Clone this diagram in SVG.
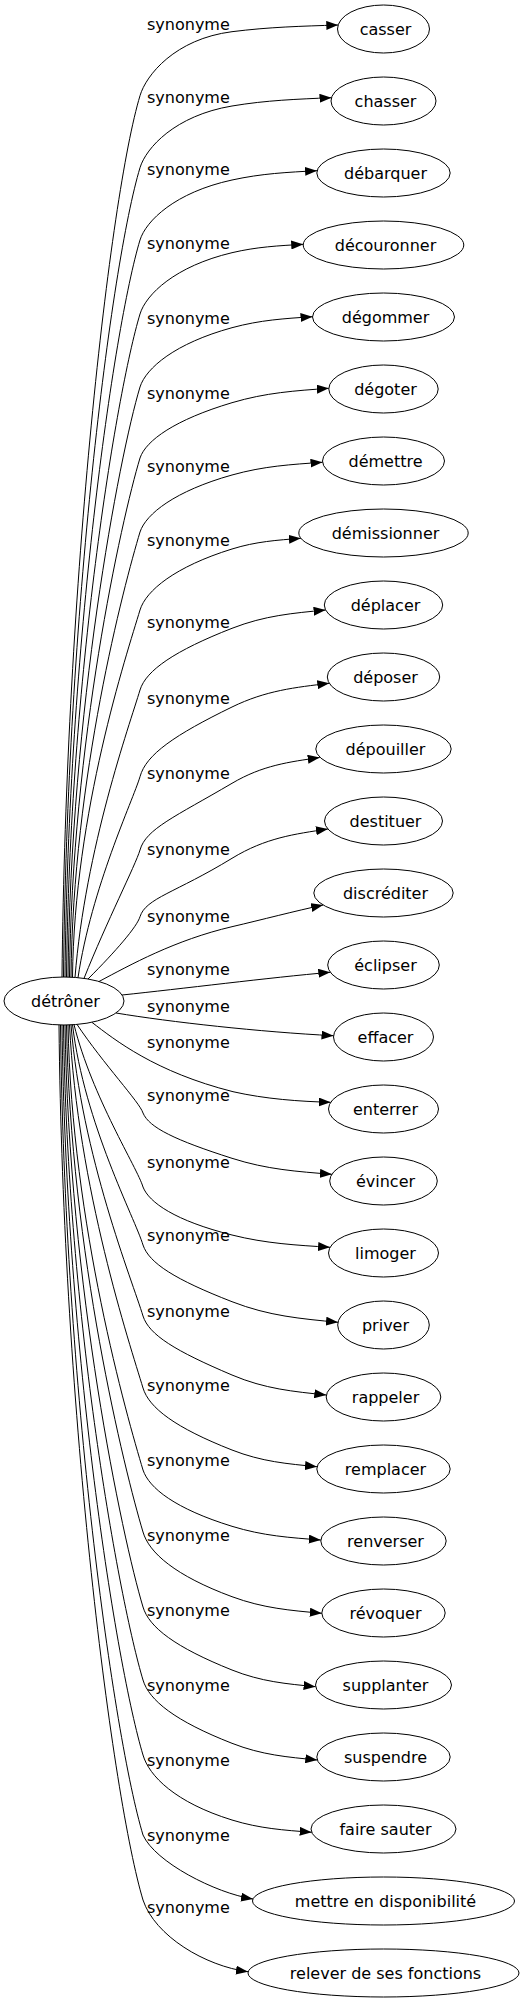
<svg xmlns="http://www.w3.org/2000/svg" width="526" height="2003" viewBox="0 0 526 2003">
<style>
text{font-family:"DejaVu Sans","Liberation Sans",sans-serif;font-size:16px;fill:#000}
.n ellipse{fill:none;stroke:#000;stroke-width:1}
.n text{text-anchor:middle}
.e path{fill:none;stroke:#000;stroke-width:1;marker-end:url(#ah)}
</style>
<defs>
<marker id="ah" viewBox="0 0 12 9" refX="12" refY="4.5" markerWidth="12" markerHeight="9" markerUnits="userSpaceOnUse" orient="auto"><path d="M0,0 L12,4.5 L0,9 Z" fill="#000"/></marker>
</defs>
<rect width="526" height="2003" fill="#fff"/>
<g id="connectors" class="e">
<path d="M62,977 C66,580.4 110,195.7 140,95.7 C146,75.2 175,38.9 232,31.7 C269.2,27 301.1,26.2 338.3,25"/>
<path d="M63.5,977 C67.1,612.8 110.9,264.8 140,167.7 C146,148 175,115.5 232,106 C266.8,100.2 296.7,99.2 331.5,97.7"/>
<path d="M65,977 C68.3,645.3 113.5,328.4 140,240 C146,220.8 175,192.4 232,180 C261.8,173.5 287.3,172.3 317.1,170.7"/>
<path d="M66.5,977 C69.5,678.6 116.1,393.6 140,314 C146,294.4 175,266.2 232,252.7 C256.9,246.8 278.3,245.8 303.2,244.3"/>
<path d="M68,977 C70.7,711.5 118.8,457.8 140,387 C146,368 175,343.3 232,327.7 C260.2,320 284.3,318.6 312.5,316.7"/>
<path d="M69.5,977.1 C71.8,743.5 121.3,520.3 140,458 C146,440.3 175,419.7 232,402.7 C265.9,392.6 294.9,390.8 328.8,388.3"/>
<path d="M71,977.2 C73,776.9 124,585.4 140,532 C146,513.8 175,491 232,475 C263.7,466.1 290.8,464.5 322.5,462.3"/>
<path d="M72.5,977.2 C74.2,812 126.8,654.1 140,610 C146,590.5 175,566.7 232,549 C256.1,541.5 276.8,540.2 300.9,538.3"/>
<path d="M75,977.4 C85.3,848.1 129.7,724.5 140,690 C146,670.3 175,650.6 232,628.3 C264.8,615.5 292.8,613.2 325.6,610"/>
<path d="M78,977.7 C91.6,887.3 132.8,800.8 140,776.7 C146,754.4 175,734.8 232,707 C266.1,690.4 295.2,687.4 329.3,683.3"/>
<path d="M84,978.4 C107.1,920.6 135.4,865.4 140,850 C146,828.7 175,816.8 232,783.3 C262.7,765.2 289,762 319.7,757.5"/>
<path d="M88,979 C116,951 137,926.7 140,916.7 C146,898 175,893.1 232,858.3 C265.6,837.8 294.3,834.1 327.9,829"/>
<path d="M99,981.5 C130,965 175,940 232,926.7 C262,919.7 295,911 323.1,905"/>
<path d="M122,995 C180,989 270,977.5 330.3,972.3"/>
<path d="M116,1013 C170,1022 260,1032 333.5,1035.7"/>
<path d="M92,1022.4 C115,1040 155,1072 233,1091.7 C265,1099 300,1101.5 330.7,1102.3"/>
<path d="M77,1024.4 C103.7,1064.3 139.8,1102.4 143,1113 C149,1127.5 175,1140.1 232,1158.3 C267,1169.5 296.9,1171.5 331.9,1174.3"/>
<path d="M74,1024.6 C92.3,1097.7 137.2,1167.5 143,1187 C149,1202.4 175,1220.7 232,1235 C266.3,1243.6 295.8,1245.1 330.1,1247.3"/>
<path d="M72.5,1024.7 C84.4,1123.8 135.1,1218.6 143,1245 C149,1263.1 175,1279.5 232,1301.7 C269.1,1316.1 300.9,1318.7 338,1322.3"/>
<path d="M71,1024.8 C81.5,1155.8 132.5,1281.1 143,1316 C149,1334.9 175,1350.8 232,1375 C265,1389 293.3,1391.5 326.3,1395"/>
<path d="M69.5,1024.9 C77.7,1188.3 129.9,1344.4 143,1388 C149,1407.8 175,1427.6 232,1450 C261.8,1461.7 287.3,1463.8 317,1466.7"/>
<path d="M68,1025 C72,1225.3 127,1416.6 143,1470 C149,1488 175,1508.7 232,1526.3 C263.1,1535.9 289.7,1537.6 320.8,1540"/>
<path d="M66.5,1025 C70.5,1253.2 124.8,1471.2 143,1532 C149,1552.7 175,1575.6 232,1596.7 C263.4,1608.3 290.4,1610.4 321.8,1613.3"/>
<path d="M65,1025 C69,1286.9 122.1,1537.2 143,1607 C149,1627.2 175,1647.2 232,1670 C261.3,1681.7 286.3,1683.8 315.6,1686.7"/>
<path d="M63.5,1025 C67.5,1319.8 119.4,1601.4 143,1680 C149,1700.3 175,1721 232,1743.3 C261.9,1755 287.4,1757.1 317.3,1760"/>
<path d="M62,1025 C66,1353.5 116.7,1667.4 143,1755 C149,1775.8 175,1802.4 232,1820 C259.9,1828.6 283.8,1830.1 311.7,1832.3"/>
<path d="M60.5,1025 C64.5,1389.5 113.8,1737.8 143,1835 C155,1862 215,1893 253,1899"/>
<path d="M59,1024.9 C63,1418.7 113,1800 143,1900 C155,1936 205,1966 248,1971.7"/>
<g id="edge-labels">
<text x="147" y="30.2">synonyme</text>
<text x="147" y="102.5">synonyme</text>
<text x="147" y="174.5">synonyme</text>
<text x="147" y="249.2">synonyme</text>
<text x="147" y="324.2">synonyme</text>
<text x="147" y="399.2">synonyme</text>
<text x="147" y="471.5">synonyme</text>
<text x="147" y="545.5">synonyme</text>
<text x="147" y="627.5">synonyme</text>
<text x="147" y="703.5">synonyme</text>
<text x="147" y="779.2">synonyme</text>
<text x="147" y="855.2">synonyme</text>
<text x="147" y="921.5">synonyme</text>
<text x="147" y="974.8">synonyme</text>
<text x="147" y="1011.5">synonyme</text>
<text x="147" y="1048.2">synonyme</text>
<text x="147" y="1100.5">synonyme</text>
<text x="147" y="1167.5">synonyme</text>
<text x="147" y="1240.5">synonyme</text>
<text x="147" y="1316.5">synonyme</text>
<text x="147" y="1390.5">synonyme</text>
<text x="147" y="1465.5">synonyme</text>
<text x="147" y="1540.5">synonyme</text>
<text x="147" y="1615.5">synonyme</text>
<text x="147" y="1690.5">synonyme</text>
<text x="147" y="1765.5">synonyme</text>
<text x="147" y="1840.5">synonyme</text>
<text x="147" y="1912.5">synonyme</text>
</g>
</g>
<g id="node-detroner" class="n"><ellipse cx="64" cy="1001" rx="60" ry="24"/><text x="65.5" y="1006.5">détrôner</text></g>
<g id="node-casser" class="n"><ellipse cx="383.5" cy="29" rx="46" ry="24"/><text x="385.5" y="34.5">casser</text></g>
<g id="node-chasser" class="n"><ellipse cx="383.5" cy="101" rx="52.5" ry="24"/><text x="385.5" y="106.5">chasser</text></g>
<g id="node-debarquer" class="n"><ellipse cx="383.5" cy="173" rx="66.7" ry="24"/><text x="385.5" y="178.5">débarquer</text></g>
<g id="node-decouronner" class="n"><ellipse cx="383.5" cy="245" rx="80.3" ry="24"/><text x="385.5" y="250.5">découronner</text></g>
<g id="node-degommer" class="n"><ellipse cx="383.5" cy="317" rx="71" ry="24"/><text x="385.5" y="322.5">dégommer</text></g>
<g id="node-degoter" class="n"><ellipse cx="383.5" cy="389" rx="54.7" ry="24"/><text x="385.5" y="394.5">dégoter</text></g>
<g id="node-demettre" class="n"><ellipse cx="383.5" cy="461" rx="61" ry="24"/><text x="385.5" y="466.5">démettre</text></g>
<g id="node-demissionner" class="n"><ellipse cx="383.5" cy="533" rx="84.7" ry="24"/><text x="385.5" y="538.5">démissionner</text></g>
<g id="node-deplacer" class="n"><ellipse cx="383.5" cy="605" rx="59.2" ry="24"/><text x="385.5" y="610.5">déplacer</text></g>
<g id="node-deposer" class="n"><ellipse cx="383.5" cy="677" rx="56.2" ry="24"/><text x="385.5" y="682.5">déposer</text></g>
<g id="node-depouiller" class="n"><ellipse cx="383.5" cy="749" rx="67.7" ry="24"/><text x="385.5" y="754.5">dépouiller</text></g>
<g id="node-destituer" class="n"><ellipse cx="383.5" cy="821" rx="59" ry="24"/><text x="385.5" y="826.5">destituer</text></g>
<g id="node-discrediter" class="n"><ellipse cx="383.5" cy="893" rx="69.7" ry="24"/><text x="385.5" y="898.5">discréditer</text></g>
<g id="node-eclipser" class="n"><ellipse cx="383.5" cy="965" rx="55.8" ry="24"/><text x="385.5" y="970.5">éclipser</text></g>
<g id="node-effacer" class="n"><ellipse cx="383.5" cy="1037" rx="50" ry="24"/><text x="385.5" y="1042.5">effacer</text></g>
<g id="node-enterrer" class="n"><ellipse cx="383.5" cy="1109" rx="55" ry="24"/><text x="385.5" y="1114.5">enterrer</text></g>
<g id="node-evincer" class="n"><ellipse cx="383.5" cy="1181" rx="53.8" ry="24"/><text x="385.5" y="1186.5">évincer</text></g>
<g id="node-limoger" class="n"><ellipse cx="383.5" cy="1253" rx="55" ry="24"/><text x="385.5" y="1258.5">limoger</text></g>
<g id="node-priver" class="n"><ellipse cx="383.5" cy="1325" rx="45.8" ry="24"/><text x="385.5" y="1330.5">priver</text></g>
<g id="node-rappeler" class="n"><ellipse cx="383.5" cy="1397" rx="57.3" ry="24"/><text x="385.5" y="1402.5">rappeler</text></g>
<g id="node-remplacer" class="n"><ellipse cx="383.5" cy="1469" rx="66.7" ry="24"/><text x="385.5" y="1474.5">remplacer</text></g>
<g id="node-renverser" class="n"><ellipse cx="383.5" cy="1541" rx="62.7" ry="24"/><text x="385.5" y="1546.5">renverser</text></g>
<g id="node-revoquer" class="n"><ellipse cx="383.5" cy="1613" rx="61.7" ry="24"/><text x="385.5" y="1618.5">révoquer</text></g>
<g id="node-supplanter" class="n"><ellipse cx="383.5" cy="1685" rx="68" ry="24"/><text x="385.5" y="1690.5">supplanter</text></g>
<g id="node-suspendre" class="n"><ellipse cx="383.5" cy="1757" rx="66.7" ry="24"/><text x="385.5" y="1762.5">suspendre</text></g>
<g id="node-faire-sauter" class="n"><ellipse cx="383.5" cy="1829" rx="72.5" ry="24"/><text x="385.5" y="1834.5">faire sauter</text></g>
<g id="node-mettre-en-disponibilite" class="n"><ellipse cx="383.5" cy="1901" rx="131" ry="24"/><text x="385.5" y="1906.5">mettre en disponibilité</text></g>
<g id="node-relever-de-ses-fonctions" class="n"><ellipse cx="383.5" cy="1973" rx="135.5" ry="24"/><text x="385.5" y="1978.5">relever de ses fonctions</text></g>
</svg>
